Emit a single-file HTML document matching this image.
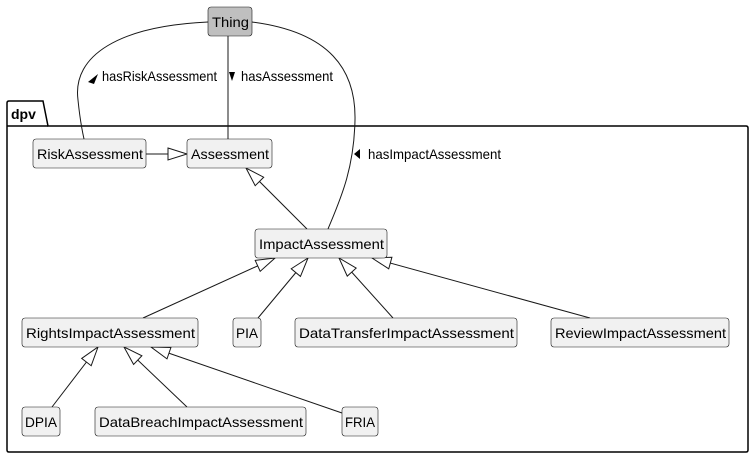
<!DOCTYPE html>
<html><head><meta charset="utf-8"><style>
body{margin:0;background:#fff}
svg{display:block}
text{font-family:"Liberation Sans","DejaVu Sans",sans-serif;font-size:14px;fill:#000}
.n{fill:#f1f1f1;stroke:#181818;stroke-width:0.6}
.l{stroke:#181818;stroke-width:1;fill:none}
</style></head><body>
<svg width="753" height="458" viewBox="0 0 753 458">
<defs>
<marker id="t" markerWidth="22" markerHeight="14" refX="20" refY="7" orient="auto" markerUnits="userSpaceOnUse">
<path d="M1,1 L20,7 L1,13 Z" fill="#fff" stroke="#181818" stroke-width="1"/>
</marker>
</defs>
<path d="M9,101 L43,101 L48,126 L746,126 Q748,126 748,128 L748,450 Q748,452 746,452 L9,452 Q7,452 7,450 L7,103 Q7,101 9,101 Z" fill="none" stroke="#000" stroke-width="1.5"/>
<line x1="7" y1="126" x2="48" y2="126" stroke="#000" stroke-width="1.5"/>
<text x="11" y="119" style="font-weight:bold">dpv</text>

<path class="l" d="M208,22 C120,26 72,55 78,100 C80,120 82,130 84,139"/>
<path class="l" d="M228,36 L228,139"/>
<path class="l" d="M252,22 C330,32 356,70 355,120 C354,170 340,200 328,229"/>
<path d="M88,82 L98,74 L94,84 Z" fill="#000"/><text x="102" y="81" textLength="115" lengthAdjust="spacingAndGlyphs">hasRiskAssessment</text>
<path d="M229,72 L235,72 L232,81 Z" fill="#000"/><text x="241" y="81" textLength="92" lengthAdjust="spacingAndGlyphs">hasAssessment</text>
<path d="M360,149 L360,159 L354,154 Z" fill="#000"/><text x="368" y="159" textLength="133" lengthAdjust="spacingAndGlyphs">hasImpactAssessment</text>

<line class="l" x1="146" y1="154" x2="187" y2="154" marker-end="url(#t)"/>
<line class="l" x1="307" y1="229" x2="246" y2="168" marker-end="url(#t)"/>
<line class="l" x1="143" y1="318" x2="275" y2="258" marker-end="url(#t)"/>
<line class="l" x1="258" y1="318" x2="308" y2="258" marker-end="url(#t)"/>
<line class="l" x1="393" y1="318" x2="339" y2="258" marker-end="url(#t)"/>
<line class="l" x1="590" y1="318" x2="372" y2="258" marker-end="url(#t)"/>
<line class="l" x1="52" y1="407" x2="98" y2="347" marker-end="url(#t)"/>
<line class="l" x1="187" y1="407" x2="124" y2="347" marker-end="url(#t)"/>
<line class="l" x1="342" y1="413" x2="151" y2="347" marker-end="url(#t)"/>

<rect x="208" y="7" width="44" height="29" rx="3" fill="#bfbfbf" stroke="#181818" stroke-width="0.6"/><text x="212" y="27" textLength="37" lengthAdjust="spacingAndGlyphs">Thing</text>
<rect class="n" x="33" y="139" width="113" height="29" rx="3"/><text x="37" y="159" textLength="106" lengthAdjust="spacingAndGlyphs">RiskAssessment</text>
<rect class="n" x="187" y="139" width="85" height="29" rx="3"/><text x="191" y="159" textLength="78" lengthAdjust="spacingAndGlyphs">Assessment</text>
<rect class="n" x="255" y="229" width="132" height="29" rx="3"/><text x="259" y="249" textLength="125" lengthAdjust="spacingAndGlyphs">ImpactAssessment</text>
<rect class="n" x="22" y="318" width="176" height="29" rx="3"/><text x="26" y="338" textLength="169" lengthAdjust="spacingAndGlyphs">RightsImpactAssessment</text>
<rect class="n" x="233" y="318" width="28" height="29" rx="3"/><text x="236" y="338" textLength="22" lengthAdjust="spacingAndGlyphs">PIA</text>
<rect class="n" x="295" y="318" width="222" height="29" rx="3"/><text x="299" y="338" textLength="215" lengthAdjust="spacingAndGlyphs">DataTransferImpactAssessment</text>
<rect class="n" x="551" y="318" width="178" height="29" rx="3"/><text x="555" y="338" textLength="171" lengthAdjust="spacingAndGlyphs">ReviewImpactAssessment</text>
<rect class="n" x="22" y="407" width="38" height="29" rx="3"/><text x="25" y="427" textLength="32" lengthAdjust="spacingAndGlyphs">DPIA</text>
<rect class="n" x="95" y="407" width="211" height="29" rx="3"/><text x="99" y="427" textLength="204" lengthAdjust="spacingAndGlyphs">DataBreachImpactAssessment</text>
<rect class="n" x="342" y="407" width="36" height="29" rx="3"/><text x="345" y="427" textLength="30" lengthAdjust="spacingAndGlyphs">FRIA</text>
</svg>
</body></html>
